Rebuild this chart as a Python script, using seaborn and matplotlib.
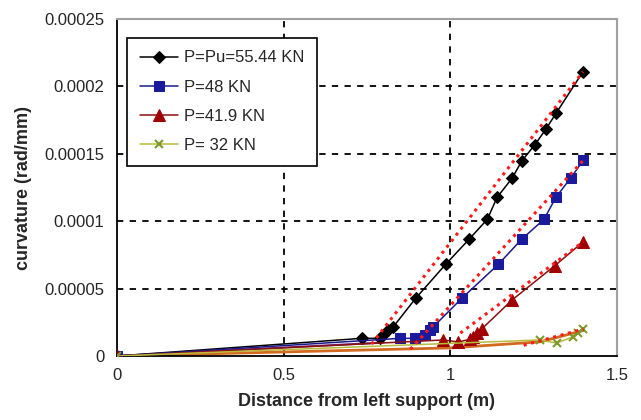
import numpy as np
import seaborn as sns
import matplotlib
matplotlib.use("Agg")
import matplotlib.pyplot as plt

# ---- data ----
# P = Pu = 55.44 kN
x_p55 = [0.0, 0.734, 0.789, 0.799, 0.814, 0.829, 0.896, 0.986, 1.057, 1.111,
         1.140, 1.185, 1.215, 1.253, 1.287, 1.317, 1.398]
y_p55 = [0.0, 1.31e-5, 1.31e-5, 1.56e-5, 1.93e-5, 2.17e-5, 4.28e-5, 6.80e-5, 8.68e-5, 1.014e-4,
         1.176e-4, 1.318e-4, 1.449e-4, 1.565e-4, 1.684e-4, 1.80e-4, 2.109e-4]
# P = 48 kN
x_p48 = [0.0, 0.849, 0.894, 0.924, 0.939, 0.949, 1.034, 1.144, 1.214, 1.281,
         1.317, 1.361, 1.399]
y_p48 = [0.0, 1.31e-5, 1.31e-5, 1.56e-5, 1.93e-5, 2.17e-5, 4.27e-5, 6.80e-5, 8.66e-5, 1.014e-4,
         1.178e-4, 1.32e-4, 1.452e-4]
# P = 41.9 kN
x_p42 = [0.0, 0.979, 1.024, 1.059, 1.069, 1.079, 1.094, 1.185, 1.314, 1.399]
y_p42 = [0.0, 1.19e-5, 1.04e-5, 1.24e-5, 1.43e-5, 1.68e-5, 2.0e-5, 4.15e-5, 6.71e-5, 8.48e-5]
# P = 32 kN
x_p32 = [0.0, 1.269, 1.319, 1.369, 1.384, 1.399]
y_p32 = [0.0, 1.19e-5, 0.96e-5, 1.43e-5, 1.68e-5, 1.99e-5]

# other (unlabelled) curves near the axis
x_low1 = [0.0, 1.0, 1.269, 1.40]
y_low1 = [0.0, 6.0e-6, 1.05e-5, 1.9e-5]
x_low2 = [0.0, 0.80]
y_low2 = [0.0, 1.0e-5]

# straight (dotted) fits
fit_x = [[0.764, 1.398], [0.88, 1.399], [1.03, 1.399], [1.22, 1.40]]
fit_y = [[8.9e-6, 2.109e-4], [5.0e-6, 1.452e-4], [1.7e-5, 8.48e-5], [8.0e-6, 2.0e-5]]

labels = ["P=Pu=55.44 KN", "P=48 KN", "P=41.9 KN", "P= 32 KN"]

xticks = [0, 0.5, 1, 1.5]
xticklabels = ["0", "0.5", "1", "1.5"]
yticks = [0, 0.00005, 0.0001, 0.00015, 0.0002, 0.00025]
yticklabels = ["0", "0.00005", "0.0001", "0.00015", "0.0002", "0.00025"]

# ---- plotting ----
sns.set_style("white")
plt.rcParams['font.family'] = ['Liberation Sans', 'DejaVu Sans']

fig = plt.figure(figsize=(6.41, 4.20), dpi=100)
ax = fig.add_axes([117 / 641, 1 - 356 / 420, 500 / 641, 337 / 420])

# interior grid lines
for xv in xticks[1:-1]:
    ax.axvline(xv, color="black", ls=(0, (3.5, 3.5)), lw=1.3, zorder=1)
for yv in yticks[1:-1]:
    ax.axhline(yv, color="black", ls=(0, (3.5, 3.5)), lw=1.3, zorder=1)

sns.lineplot(x=x_low1, y=y_low1, color="#d2691e", lw=2, sort=False, ax=ax, zorder=2)
sns.lineplot(x=x_low2, y=y_low2, color="#6a2a8a", lw=1.5, sort=False, ax=ax, zorder=2)

styles = [
    dict(color="black", marker="D", markersize=6, mfc="black", mec="black"),
    dict(color="#1a1a8c", marker="s", markersize=7, mfc="#1a1a9c", mec="#1a1a9c"),
    dict(color="#8b1010", marker="^", markersize=8, mfc="#a00000", mec="#a00000"),
    dict(color="#b8bc3a", marker="x", markersize=6, mfc="#7d9a2a", mec="#7d9a2a", mew=1.5),
]
series = [(x_p55, y_p55), (x_p48, y_p48), (x_p42, y_p42), (x_p32, y_p32)]
for (xs, ys), lab, st in zip(series, labels, styles):
    sns.lineplot(x=xs, y=ys, label=lab, lw=1.1, sort=False, ax=ax, zorder=3, **st)

for fx, fy in zip(fit_x, fit_y):
    sns.lineplot(x=fx, y=fy, color="#ff1a1a", ls=(0, (1, 1.5)), lw=2.2, sort=False, ax=ax, zorder=4)

ax.set_xlim(0, 1.5)
ax.set_ylim(0, 0.00025)
ax.set_xticks(xticks)
ax.set_xticklabels(xticklabels, fontsize=12)
ax.set_yticks(yticks)
ax.set_yticklabels(yticklabels, fontsize=12)
ax.tick_params(axis="both", direction="inout", length=8, width=1.2, color="black", pad=5)

for s in ["left", "bottom"]:
    ax.spines[s].set_color("black")
    ax.spines[s].set_linewidth(1.3)
for s in ["top", "right"]:
    ax.spines[s].set_color("#a0a0a0")
    ax.spines[s].set_linewidth(1.5)

ax.set_xlabel("Distance from left support (m)", fontsize=13, fontweight="bold", labelpad=7)
ax.set_ylabel("curvature (rad/mm)", fontsize=13, fontweight="bold", labelpad=9)

h, l = ax.get_legend_handles_labels()
leg = ax.legend(h, l, loc="upper left", bbox_to_anchor=(127 / 641, 1 - 38 / 420),
                bbox_transform=fig.transFigure, borderaxespad=0, fontsize=12, frameon=True,
                fancybox=False, edgecolor="black", framealpha=1, handlelength=2.3,
                labelspacing=0.85, borderpad=0.75, handletextpad=0.4)
leg.get_frame().set_linewidth(1.2)

fig.savefig("out.png", dpi=100)
